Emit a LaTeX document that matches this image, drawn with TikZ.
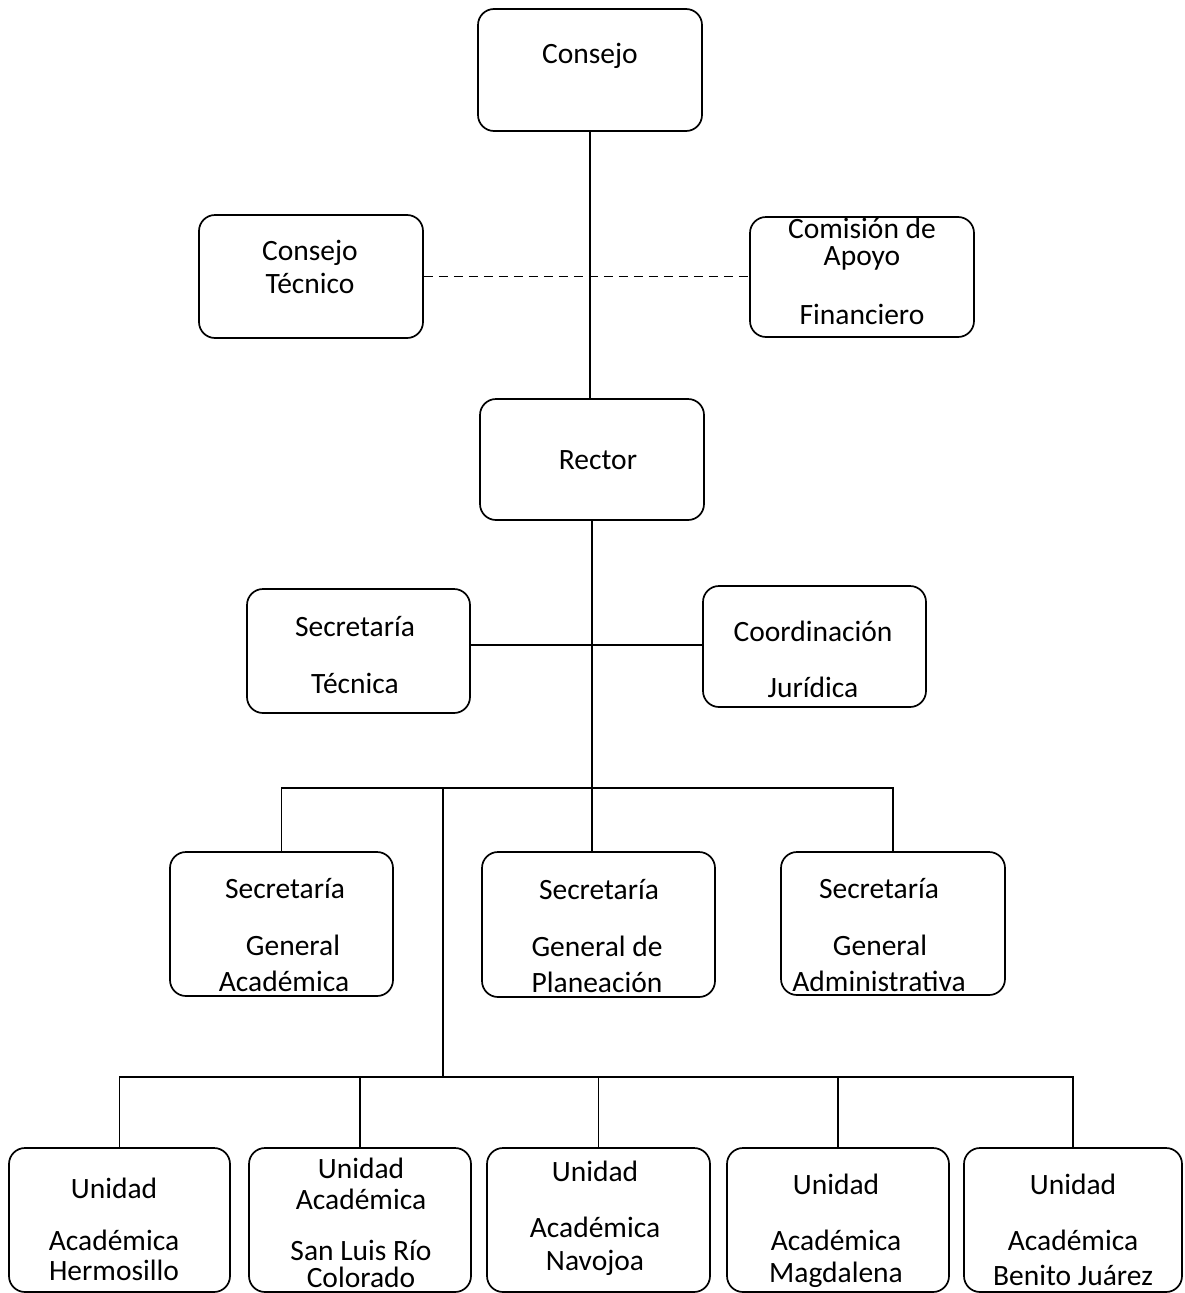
\documentclass[tikz,border=0pt]{standalone}
\usepackage{fontspec}
\setmainfont{Carlito}

\begin{document}
\begin{tikzpicture}[x=1pt,y=-1pt,thick]
\tikzstyle{box}=[rectangle,rounded corners=16pt,draw=black,line width=1.7pt,inner sep=0pt]
\tikzstyle{txt}=[font=\fontsize{29.5}{33}\selectfont,inner sep=0pt]
\tikzstyle{link}=[line width=1.6pt]
\useasboundingbox (0,0) rectangle (1184,1293);
% top level
\node[box,minimum width=224pt,minimum height=122pt] (consejo) at (590,70) {};
\node[txt] (consejoA) at (590,56) {Consejo};
\node[box,minimum width=224pt,minimum height=123pt] (ctec) at (311,276.5) {};
\node[txt] (ctecA) at (310,253) {Consejo};
\node[txt] (ctecB) at (310,283) {Técnico};
\node[box,minimum width=224pt,minimum height=120pt] (cafin) at (862,277) {};
\node[txt] (cafinA) at (862,228) {Comisión de};
\node[txt] (cafinB) at (862,258) {Apoyo};
\node[txt] (cafinC) at (862,314) {Financiero};
\node[box,minimum width=224pt,minimum height=121pt] (rector) at (592,459.5) {};
\node[txt] (rectorA) at (598,460) {Rector};
% staff of the rector
\node[box,minimum width=223pt,minimum height=124pt] (stec) at (358.5,651) {};
\node[txt] (stecA) at (355,627) {Secretaría};
\node[txt] (stecB) at (355,683) {Técnica};
\node[box,minimum width=223pt,minimum height=121pt] (cjur) at (814.5,646.5) {};
\node[txt] (cjurA) at (813,631) {Coordinación};
\node[txt] (cjurB) at (813,687) {Jurídica};
% general secretariats
\node[box,minimum width=223pt,minimum height=144pt] (sga) at (281.5,924) {};
\node[txt] (sgaA) at (285,889) {Secretaría};
\node[txt] (sgaB) at (293,945) {General};
\node[txt] (sgaC) at (284,981) {Académica};
\node[box,minimum width=233pt,minimum height=145pt] (sgp) at (598.5,924.5) {};
\node[txt] (sgpA) at (599,890) {Secretaría};
\node[txt] (sgpB) at (597,946) {General de};
\node[txt] (sgpC) at (597,982) {Planeación};
\node[box,minimum width=224pt,minimum height=143pt] (sgadm) at (893,923.5) {};
\node[txt] (sgadmA) at (879,889) {Secretaría};
\node[txt] (sgadmB) at (880,945) {General};
\node[txt] (sgadmC) at (879,981) {Administrativa};
% academic units
\node[box,minimum width=221pt,minimum height=144pt] (ua1) at (119.5,1220) {};
\node[txt] (ua1A) at (114,1188) {Unidad};
\node[txt] (ua1B) at (114,1240) {Académica};
\node[txt] (ua1C) at (114,1270) {Hermosillo};
\node[box,minimum width=222pt,minimum height=144pt] (ua2) at (360,1220) {};
\node[txt] (ua2A) at (361,1168) {Unidad};
\node[txt] (ua2B) at (361,1199) {Académica};
\node[txt] (ua2C) at (361,1250) {San Luis Río};
\node[txt] (ua2D) at (361,1277) {Colorado};
\node[box,minimum width=223pt,minimum height=144pt] (ua3) at (598.5,1220) {};
\node[txt] (ua3A) at (595,1171) {Unidad};
\node[txt] (ua3B) at (595,1227) {Académica};
\node[txt] (ua3C) at (595,1263) {Navojoa};
\node[box,minimum width=222pt,minimum height=144pt] (ua4) at (838,1220) {};
\node[txt] (ua4A) at (836,1184) {Unidad};
\node[txt] (ua4B) at (836,1240) {Académica};
\node[txt] (ua4C) at (836,1275) {Magdalena};
\node[box,minimum width=218pt,minimum height=144pt] (ua5) at (1073,1220) {};
\node[txt] (ua5A) at (1073,1184) {Unidad};
\node[txt] (ua5B) at (1073,1240) {Académica};
\node[txt] (ua5C) at (1073,1275) {Benito Juárez};
% connectors
\coordinate (mid1) at (594,645);
\coordinate (bus1) at (594,788);
\coordinate (bus2) at (443,1077);
\draw[link] (consejo.south) -- (consejo.south |- rector.north);
\draw[link,dash pattern=on 9pt off 6pt] (ctec.east) -- (ctec.east -| cafin.west);
\draw[link] (rector.south) -- (rector.south |- sgp.north);
\draw[link] (stec.east |- mid1) -- (cjur.west |- mid1);
\draw[link] (sga.north) -- (sga.north |- bus1) -| (sgadm.north);
\draw[link] (bus2 |- bus1) -- (bus2);
\draw[link] (ua1.north) -- (ua1.north |- bus2) -| (ua5.north);
\foreach \u in {ua2,ua3,ua4}
  \draw[link] (\u.north) -- (\u.north |- bus2);
\end{tikzpicture}
\end{document}
